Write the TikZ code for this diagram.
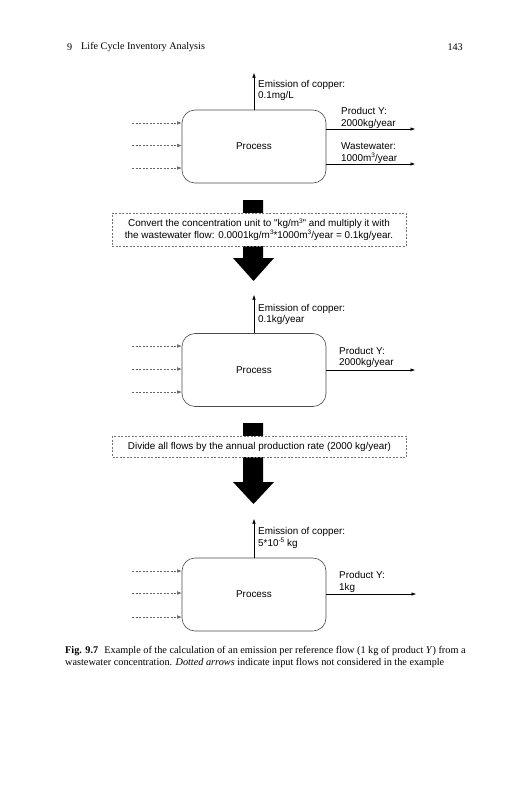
\documentclass[tikz,border=0pt]{standalone}
\usepackage{fontspec}
\setmainfont{Liberation Serif}
\newfontfamily\lsans{Liberation Sans}
\usetikzlibrary{arrows.meta}
\newcommand{\supx}[1]{\raisebox{0.38em}{\fontsize{6.5}{7}\selectfont #1}}
\begin{document}
\begin{tikzpicture}[x=1pt,y=-1pt,
  sansfont/.style={font=\lsans\fontsize{9.9}{11.5}\selectfont},
  proc/.style={draw=black!70, rounded corners=13pt, minimum width=144pt, minimum height=73pt, sansfont, line width=0.6pt},
  lbl/.style={sansfont, align=left, anchor=west, inner sep=0pt},
  flow/.style={-{Latex[length=4.5pt,width=3.5pt]}, line width=0.5pt},
  inflow/.style={-{Latex[length=4.5pt,width=3.5pt]}, line width=0.5pt, draw=black!60, dash pattern=on 2pt off 1.5pt},
  note/.style={draw=black!55, dash pattern=on 2pt off 1.5pt, fill=white, minimum width=294pt, sansfont, align=center, inner sep=0pt},
  serif/.style={inner sep=0pt}
]
\useasboundingbox (0,0) rectangle (527,800);
\fill[white] (0,0) rectangle (527,800);

% header
\node[serif, anchor=west, font=\fontsize{10.2}{12}\selectfont] (hnum) at (67,47) {9};
\node[serif, anchor=west, font=\fontsize{10.2}{12}\selectfont] (htitle) at (81,47) {Life Cycle Inventory Analysis};
\node[serif, anchor=east, font=\fontsize{10.2}{12}\selectfont] (hpage) at (463,47) {143};

% ---------- stage 1
\node[proc] (p1) at (254,146.5) {Process};
\coordinate (e1) at (254,73);
\draw[flow] (p1.north) -- (e1);
\node[lbl] (le1) at (258,90.5) {Emission of copper:\\0.1mg/L};
\coordinate (o1a) at (415,129);
\coordinate (o1b) at (415,164);
\draw[flow] (o1a -| p1.east) -- (o1a);
\draw[flow] (o1b -| p1.east) -- (o1b);
\node[lbl] (lo1a) at (341,118) {Product Y:\\2000kg/year};
\node[lbl] (lo1b) at (341,153) {Wastewater:\\1000m\supx{3}/year};
\coordinate (i1a) at (132,123);
\coordinate (i1b) at (132,145.5);
\coordinate (i1c) at (132,168);
\foreach \c in {i1a,i1b,i1c} \draw[inflow] (\c) -- (\c -| p1.west);

% big arrow 1
\fill[black] (243,200) -- (263,200) -- (263,258) -- (274,258) -- (253.5,281) -- (233,258) -- (243,258) -- cycle;
\node[note, minimum height=33pt] (n1) at (259,229.5) {Convert the concentration unit to "kg/m\supx{3}" and multiply it with\\the wastewater flow: 0.0001kg/m\supx{3}*1000m\supx{3}/year = 0.1kg/year.};

% ---------- stage 2
\node[proc] (p2) at (254,370) {Process};
\coordinate (e2) at (254,295);
\draw[flow] (p2.north) -- (e2);
\node[lbl] (le2) at (258,314.5) {Emission of copper:\\0.1kg/year};
\coordinate (o2a) at (415,370);
\draw[flow] (o2a -| p2.east) -- (o2a);
\node[lbl] (lo2a) at (339,357.5) {Product Y:\\2000kg/year};
\coordinate (i2a) at (132,346);
\coordinate (i2b) at (132,369);
\coordinate (i2c) at (132,392);
\foreach \c in {i2a,i2b,i2c} \draw[inflow] (\c) -- (\c -| p2.west);

% big arrow 2
\fill[black] (243,423) -- (263,423) -- (263,482) -- (274,482) -- (253.5,504) -- (233,482) -- (243,482) -- cycle;
\node[note, minimum height=21pt] (n2) at (259.5,446.5) {Divide all flows by the annual production rate (2000 kg/year)};

% ---------- stage 3
\node[proc] (p3) at (254,594.5) {Process};
\coordinate (e3) at (254,519);
\draw[flow] (p3.north) -- (e3);
\node[lbl] (le3) at (258,538) {Emission of copper:\\5*10\supx{-5} kg};
\coordinate (o3a) at (416,594);
\draw[flow] (o3a -| p3.east) -- (o3a);
\node[lbl] (lo3a) at (339,582) {Product Y:\\1kg};
\coordinate (i3a) at (132,571);
\coordinate (i3b) at (132,593);
\coordinate (i3c) at (132,617);
\foreach \c in {i3a,i3b,i3c} \draw[inflow] (\c) -- (\c -| p3.west);

% caption
\node[serif, anchor=west, font=\fontsize{10.25}{12}\selectfont] (cap1) at (65,651) {\textbf{Fig. 9.7}\hspace{0.6em}Example of the calculation of an emission per reference flow (1 kg of product \textit{Y}) from a};
\node[serif, anchor=west, font=\fontsize{10.25}{12}\selectfont] (cap2) at (65,663) {wastewater concentration. \textit{Dotted arrows} indicate input flows not considered in the example};
\end{tikzpicture}
\end{document}
